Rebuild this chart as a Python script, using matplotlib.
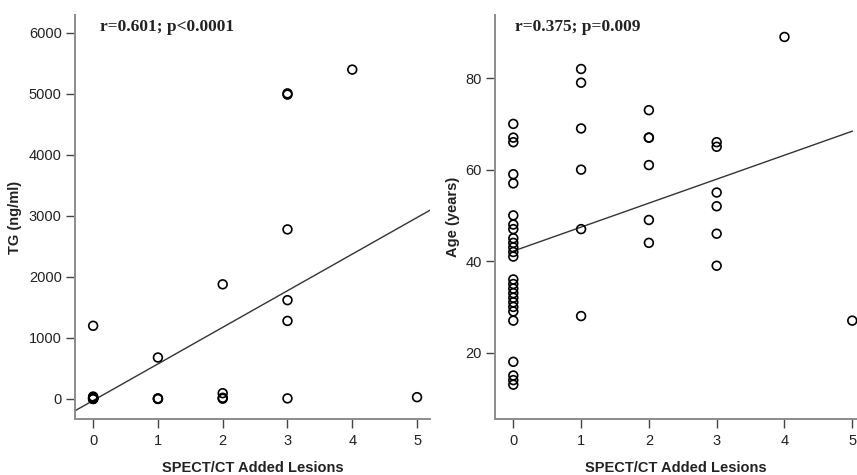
import matplotlib.pyplot as plt

# Data
tg_lesions = [0, 0, 0, 0, 0, 0, 0, 0,
              1, 1, 1, 1,
              2, 2, 2, 2,
              3, 3, 3, 3, 3, 3,
              4, 5]
tg_values = [1200, 40, 25, 15, 10, 5, 2, 0,
             680, 10, 5, 0,
             1880, 95, 20, 5,
             5010, 4990, 2780, 1620, 1280, 10,
             5400, 30]

age_lesions = [0] * 26 + [1] * 6 + [2] * 6 + [3] * 6 + [4, 5]
age_values = [70, 67, 66, 59, 57, 50, 48, 47, 45, 44, 43, 42, 41,
              36, 35, 34, 33, 32, 31, 30, 29, 27, 18, 15, 14, 13,
              82, 79, 69, 60, 47, 28,
              73, 67, 67, 61, 49, 44,
              66, 65, 55, 52, 46, 39,
              89, 27]

# fitted lines (intercept, slope) as drawn in the figure
tg_fit = (-25, 600)
age_fit = (42.2, 5.24)

tg_text = "r=0.601; p<0.0001"
age_text = "r=0.375; p=0.009"

plt.rcParams['font.family'] = ['Liberation Sans', 'DejaVu Sans']

fig = plt.figure(figsize=(8.57, 4.75), dpi=100)
ax1 = fig.add_axes([75 / 857, 56 / 475, 355 / 857, 404 / 475])
ax2 = fig.add_axes([495 / 857, 56 / 475, 362 / 857, 404 / 475])


def style(ax):
    for s in ['top', 'right']:
        ax.spines[s].set_visible(False)
    for s in ['left', 'bottom']:
        ax.spines[s].set_color('#8c8c8c')
        ax.spines[s].set_linewidth(1.4)
    ax.tick_params(direction='out', length=6.5, width=1.0, color='#444444',
                   labelsize=10.5, labelcolor='#222222', pad=3)
    ax.tick_params(axis='x', pad=4.5)
    ax.set_xticks(range(6))
    ax.set_xlabel("SPECT/CT Added Lesions", fontsize=10.5, fontweight='bold',
                  color='#222222', labelpad=9)


# left panel: TG
ax1.scatter(tg_lesions, tg_values, s=40, facecolors='none',
            edgecolors='black', linewidths=1.2, zorder=3)
x0, x1 = -0.28, 5.2
ax1.plot([x0, x1], [tg_fit[0] + tg_fit[1] * x0, tg_fit[0] + tg_fit[1] * x1],
         color='#333333', linewidth=1.0)
ax1.set_xlim(x0, x1)
ax1.set_ylim(-328, 6295)
ax1.set_yticks([0, 1000, 2000, 3000, 4000, 5000, 6000])
ax1.set_ylabel("TG (ng/ml)", fontsize=10.5, fontweight='bold', color='#222222',
               labelpad=5)
style(ax1)
ax1.text(0.07, 0.99, tg_text, transform=ax1.transAxes, ha='left', va='top',
         fontsize=12.5, fontweight='bold', family='Liberation Serif', color='#222222')

# right panel: age
ax2.scatter(age_lesions, age_values, s=40, facecolors='none',
            edgecolors='black', linewidths=1.2, zorder=3, clip_on=False)
ax2.plot([0, 5], [age_fit[0], age_fit[0] + age_fit[1] * 5],
         color='#333333', linewidth=1.0)
ax2.set_xlim(-0.27, 5.07)
ax2.set_ylim(5.5, 93.8)
ax2.set_yticks([20, 40, 60, 80])
ax2.set_ylabel("Age (years)", fontsize=10.5, fontweight='bold', color='#222222',
               labelpad=4)
style(ax2)
ax2.text(0.055, 0.99, age_text, transform=ax2.transAxes, ha='left', va='top',
         fontsize=12.5, fontweight='bold', family='Liberation Serif', color='#222222')

fig.savefig("out.png", dpi=100)
